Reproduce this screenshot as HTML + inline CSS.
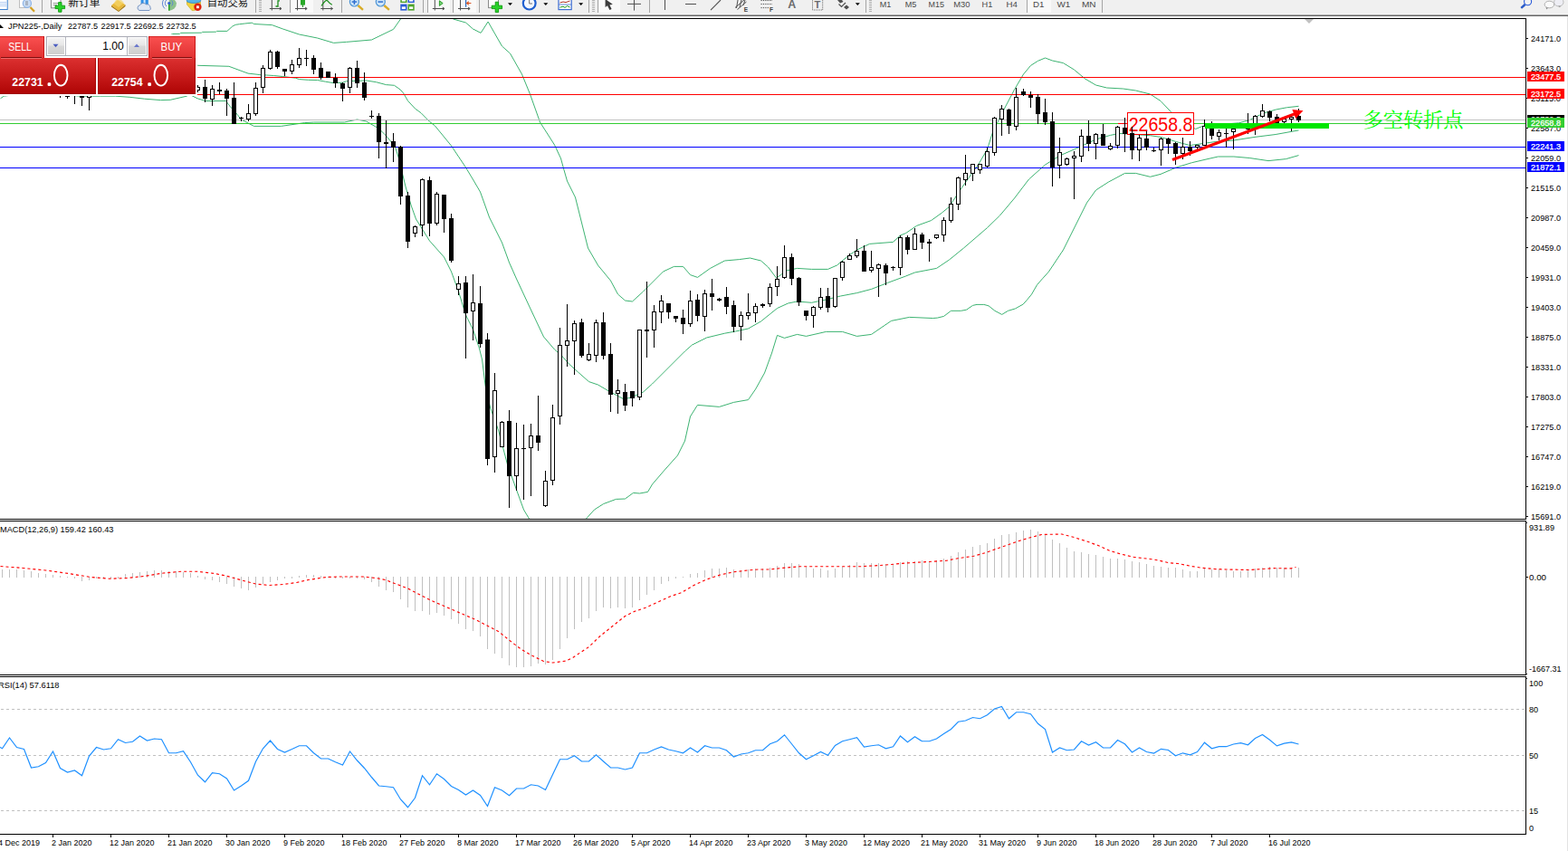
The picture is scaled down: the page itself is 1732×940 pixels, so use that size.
<!DOCTYPE html>
<html><head><meta charset="utf-8"><title>JPN225 Daily</title>
<style>html,body{margin:0;padding:0;background:#fff;overflow:hidden}
svg{display:block;font-family:"Liberation Sans",sans-serif}</style></head>
<body><svg width="1732" height="940" viewBox="0 0 1732 940">
<rect x="0" y="0" width="1732" height="940" fill="#fff"/>
<g shape-rendering="crispEdges">
<rect x="0" y="20" width="1686" height="1" fill="#000"/>
<rect x="1685" y="20" width="1" height="554" fill="#000"/>
<rect x="0" y="573" width="1686" height="1" fill="#000"/>
<rect x="0" y="575" width="1686" height="1" fill="#000"/>
<rect x="1685" y="575" width="1" height="171" fill="#000"/>
<rect x="0" y="745" width="1686" height="1" fill="#000"/>
<rect x="0" y="747" width="1686" height="1" fill="#000"/>
<rect x="1685" y="747" width="1" height="175" fill="#000"/>
<rect x="0" y="921" width="1686" height="1" fill="#000"/>
<rect x="1731" y="18" width="1" height="922" fill="#e3e3e3"/>
</g>
<clipPath id="cm"><rect x="0" y="21" width="1685" height="552"/></clipPath>
<g clip-path="url(#cm)">
<polyline points="186.5,39.5 190.5,37.5 198.5,37.4 199.5,36.4 222.5,36.2 223.5,35.4 238.5,35.2 239.5,34.4 250.9,34.4 256.8,29 260.3,27.3 264.5,26.7 270.5,26 278.3,25.2 280.5,26.5 300.5,27.6 312.5,32 330.5,38 350.5,42 368.5,47.4 382.5,46.4 410.5,44 434.5,32.4 442.5,21 444.5,18" fill="none" stroke="#3cb371" stroke-width="1"/>
<polyline points="498.5,18 500.5,21 514.5,25 522.5,32 531.1,36.4 539.1,24 554.5,51 563.5,59 576.5,82 585.5,104 596.5,135 612.5,160 619.5,175 622.5,186 626.5,200 635.5,218 642.5,246 649.5,274 660.5,293 674.5,310 682.5,325 690.5,332 698.5,333 710.5,322 724.5,308 732.5,300 744.5,294.4 754.5,294.4 762.5,303.6 770.5,306.4 784.5,296.4 800.5,288 816.5,286.6 828.5,285 840.5,288 848.5,295 857.5,307 862.5,303.6 868.5,299 880.5,296.4 896.5,297.4 914.5,297.4 924.5,293 936.5,283 946.5,276 960.5,269.4 986.5,267.4 994.5,260 1000.5,257.6 1012.5,249.4 1028.5,243.6 1040.5,235 1048.5,228.4 1060.5,210 1072.5,193 1080.5,182 1090.5,165 1096.5,146 1110.5,118 1120.5,99 1130.5,82 1138.5,72.4 1146.5,67.3 1154.5,64 1162.5,67 1174.5,69.6 1186.5,77 1198.5,87 1210.5,94 1222.5,97 1240.5,98 1254.5,100 1270.5,104 1282,111.5 1293.5,123.7 1306.5,134 1320.5,142.5 1328.5,139.3 1340.5,138 1368.5,135.8 1380.5,132.5 1391.5,127 1398,124.3 1409.5,121 1421.5,118.75 1434.5,117.3" fill="none" stroke="#3cb371" stroke-width="1"/>
<polyline points="216.5,72.4 218.5,72.3 252.9,73.3 274,81.1 287.5,82.6 302.5,83.5 312.5,84.5 326.5,86.2 330.5,87.6 340.5,88.3 350.5,88.5 359.5,90.2 368.5,91.7 378.5,91.2 382.5,89.8 392.5,89.3 405.5,89.1 415.5,90.7 426.5,93.6 435.5,94.3 442,98.9 445.5,102.7 450.5,111.3 458.5,120 465,124.7 474.5,134.3 480.5,139 498.5,161 514.5,185 523.5,200 530.5,212 540.5,240 554.5,268 562.5,290 570.5,308 584.5,338 600.5,372 612.5,386 620.5,393 628.5,402 638.5,411 650.5,421.6 660.5,425 672.5,432 688.5,440.6 696.5,439.4 710.5,433 720.5,424 740.5,404 756.5,388 764.5,381 780.5,373 800.5,368.2 812.5,366 826.5,363 840.5,355 858.5,340.5 870.5,335 880.5,333 896.5,334.3 912.5,331 928.5,327 946.5,323.6 962.5,319.4 980.5,312.4 1000.5,305 1010.5,301 1034.5,296.4 1048.5,287 1064.5,274 1090.5,251.6 1104.5,238 1120.5,219 1136.5,198 1154.5,182 1170.5,172 1186.5,165 1210.5,154 1226.5,149.4 1236.5,147.4 1270.5,149.7 1282,151.4 1299.5,156.6 1314.5,160.6 1325.9,158.9 1342.1,156.6 1362.9,155 1386,151.4 1409.1,148.5 1434.5,143.9" fill="none" stroke="#3cb371" stroke-width="1"/>
<polyline points="0.5,108.8 4.25,106.2 20.5,104 60.5,104 89.1,106.2 110.5,106.2 127.5,106.2 143.1,107.3 159.5,109.2 177.5,110.6 188.2,110.3 206.2,106.2 209,104.5 212.2,105.8 218.2,108.8 227.2,111.5 249.5,111.5 255.5,119.3 258.5,122 266.5,132 280.5,139.4 310.5,139.4 336.5,135.6 346.5,135 380.5,135 394.5,132 404.5,134 418.5,142 426.5,150 436.5,162 440.5,175 446.5,200 448.5,208 454.5,228 459.5,242 474.5,266 490.5,284 498.5,300 506.5,322 514.5,348 522.5,364 529.5,385 532.5,397 536.1,426 541.5,450 550.5,475 560.5,513 570.5,541 578.5,563 584.5,573 586.5,577" fill="none" stroke="#3cb371" stroke-width="1"/>
<polyline points="645.5,577 647.5,573 656.5,563 666.5,556.6 680.5,551.4 690.5,551 699.5,544.4 706.5,545 715.5,543.4 720.5,535 732.5,521 748.5,503 756.5,487 762.5,460 770.5,447.4 794.5,449.4 810.5,444.4 826.5,441.6 834.5,430 844.5,412 852.5,390 858.5,370.4 866.5,373.4 880.5,369.4 890.5,371.4 912.5,366.4 930.5,366.4 946.5,371.4 962.5,369.4 984.5,354.4 1004.5,350.4 1030.5,351.5 1035.5,351.1 1042.5,349.4 1050.5,343.3 1061.5,343.3 1067.5,342.2 1074.5,337.4 1079,336.4 1086.8,336.4 1092,337.8 1098.9,343.3 1106.7,347.4 1113.5,343.3 1121.5,340.9 1130.1,336.1 1134.5,331.2 1139.5,325.1 1145.5,314.7 1151.5,307.8 1158.5,300 1174.5,276 1186.5,252 1200.5,224 1210.5,210 1224.5,201 1242.5,191.4 1254.5,191.4 1270.5,195.3 1282,192.4 1299.5,184.9 1316.5,179.7 1334,175.6 1345.5,173 1362.9,173 1380.2,174.5 1401,177.6 1420.5,175.6 1434.5,171.6" fill="none" stroke="#3cb371" stroke-width="1"/>
<g shape-rendering="crispEdges">
<rect x="0" y="85" width="1685" height="1" fill="#f00"/>
<rect x="0" y="104" width="1685" height="1" fill="#f00"/>
<rect x="0" y="132" width="1685" height="1" fill="#c0c0c0"/>
<rect x="0" y="136" width="1685" height="1" fill="#32cd32"/>
<rect x="0" y="162" width="1685" height="1" fill="#00f"/>
<rect x="0" y="185" width="1685" height="1" fill="#00f"/>
</g>
<g shape-rendering="crispEdges">
<rect x="1235" y="136" width="10" height="1" fill="#f00"/>
<rect x="1245" y="124" width="74" height="25" fill="#f00"/>
<rect x="1246" y="125" width="72" height="23" fill="#fff"/>
</g>
<text x="1246.7" y="144.9" font-size="22.4" fill="#f00" textLength="70.6" lengthAdjust="spacingAndGlyphs">22658.8</text>
<g shape-rendering="crispEdges">
<rect x="66" y="100" width="1" height="8" fill="#000"/>
<rect x="64" y="100" width="5" height="4" fill="#000"/>
<rect x="74" y="95" width="1" height="14" fill="#000"/>
<rect x="72" y="98" width="5" height="9" fill="#000"/>
<rect x="73" y="99" width="3" height="7" fill="#fff"/>
<rect x="82" y="95" width="1" height="20" fill="#000"/>
<rect x="80" y="98" width="5" height="5" fill="#000"/>
<rect x="90" y="95" width="1" height="22" fill="#000"/>
<rect x="88" y="98" width="5" height="10" fill="#000"/>
<rect x="98" y="95" width="1" height="27" fill="#000"/>
<rect x="96" y="98" width="5" height="10" fill="#000"/>
<rect x="97" y="99" width="3" height="8" fill="#fff"/>
<rect x="218" y="94" width="1" height="8" fill="#000"/>
<rect x="216" y="96" width="5" height="4" fill="#000"/>
<rect x="217" y="97" width="3" height="2" fill="#fff"/>
<rect x="226" y="88" width="1" height="25" fill="#000"/>
<rect x="224" y="96" width="5" height="13" fill="#000"/>
<rect x="234" y="94" width="1" height="23" fill="#000"/>
<rect x="232" y="98" width="5" height="12" fill="#000"/>
<rect x="233" y="99" width="3" height="10" fill="#fff"/>
<rect x="242" y="91" width="1" height="13" fill="#000"/>
<rect x="240" y="99" width="5" height="2" fill="#000"/>
<rect x="250" y="98" width="1" height="30" fill="#000"/>
<rect x="248" y="100" width="5" height="9" fill="#000"/>
<rect x="258" y="91" width="1" height="46" fill="#000"/>
<rect x="256" y="108" width="5" height="29" fill="#000"/>
<rect x="266" y="129" width="1" height="5" fill="#000"/>
<rect x="264" y="130" width="5" height="1" fill="#000"/>
<rect x="274" y="115" width="1" height="19" fill="#000"/>
<rect x="272" y="125" width="5" height="7" fill="#000"/>
<rect x="273" y="126" width="3" height="5" fill="#fff"/>
<rect x="282" y="91" width="1" height="37" fill="#000"/>
<rect x="280" y="97" width="5" height="29" fill="#000"/>
<rect x="281" y="98" width="3" height="27" fill="#fff"/>
<rect x="290" y="72" width="1" height="31" fill="#000"/>
<rect x="288" y="75" width="5" height="22" fill="#000"/>
<rect x="289" y="76" width="3" height="20" fill="#fff"/>
<rect x="298" y="55" width="1" height="22" fill="#000"/>
<rect x="296" y="57" width="5" height="19" fill="#000"/>
<rect x="297" y="58" width="3" height="17" fill="#fff"/>
<rect x="306" y="56" width="1" height="20" fill="#000"/>
<rect x="304" y="57" width="5" height="17" fill="#000"/>
<rect x="314" y="76" width="1" height="8" fill="#000"/>
<rect x="312" y="76" width="5" height="3" fill="#000"/>
<rect x="322" y="66" width="1" height="16" fill="#000"/>
<rect x="320" y="71" width="5" height="8" fill="#000"/>
<rect x="321" y="72" width="3" height="6" fill="#fff"/>
<rect x="330" y="53" width="1" height="22" fill="#000"/>
<rect x="328" y="64" width="5" height="8" fill="#000"/>
<rect x="329" y="65" width="3" height="6" fill="#fff"/>
<rect x="338" y="55" width="1" height="18" fill="#000"/>
<rect x="336" y="64" width="5" height="1" fill="#000"/>
<rect x="346" y="61" width="1" height="21" fill="#000"/>
<rect x="344" y="64" width="5" height="13" fill="#000"/>
<rect x="354" y="69" width="1" height="19" fill="#000"/>
<rect x="352" y="75" width="5" height="11" fill="#000"/>
<rect x="362" y="79" width="1" height="7" fill="#000"/>
<rect x="360" y="79" width="5" height="7" fill="#000"/>
<rect x="370" y="81" width="1" height="16" fill="#000"/>
<rect x="368" y="86" width="5" height="6" fill="#000"/>
<rect x="378" y="91" width="1" height="21" fill="#000"/>
<rect x="376" y="92" width="5" height="6" fill="#000"/>
<rect x="386" y="74" width="1" height="29" fill="#000"/>
<rect x="384" y="75" width="5" height="22" fill="#000"/>
<rect x="385" y="76" width="3" height="20" fill="#fff"/>
<rect x="394" y="67" width="1" height="30" fill="#000"/>
<rect x="392" y="75" width="5" height="17" fill="#000"/>
<rect x="402" y="80" width="1" height="31" fill="#000"/>
<rect x="400" y="91" width="5" height="17" fill="#000"/>
<rect x="410" y="122" width="1" height="9" fill="#000"/>
<rect x="408" y="128" width="5" height="1" fill="#000"/>
<rect x="418" y="125" width="1" height="50" fill="#000"/>
<rect x="416" y="128" width="5" height="29" fill="#000"/>
<rect x="426" y="133" width="1" height="53" fill="#000"/>
<rect x="424" y="157" width="5" height="2" fill="#000"/>
<rect x="434" y="147" width="1" height="32" fill="#000"/>
<rect x="432" y="156" width="5" height="7" fill="#000"/>
<rect x="442" y="161" width="1" height="65" fill="#000"/>
<rect x="440" y="162" width="5" height="55" fill="#000"/>
<rect x="450" y="212" width="1" height="62" fill="#000"/>
<rect x="448" y="216" width="5" height="51" fill="#000"/>
<rect x="458" y="249" width="1" height="13" fill="#000"/>
<rect x="456" y="250" width="5" height="8" fill="#000"/>
<rect x="457" y="251" width="3" height="6" fill="#fff"/>
<rect x="466" y="197" width="1" height="64" fill="#000"/>
<rect x="464" y="198" width="5" height="51" fill="#000"/>
<rect x="465" y="199" width="3" height="49" fill="#fff"/>
<rect x="474" y="195" width="1" height="66" fill="#000"/>
<rect x="472" y="199" width="5" height="48" fill="#000"/>
<rect x="482" y="212" width="1" height="37" fill="#000"/>
<rect x="480" y="214" width="5" height="33" fill="#000"/>
<rect x="481" y="215" width="3" height="31" fill="#fff"/>
<rect x="490" y="215" width="1" height="42" fill="#000"/>
<rect x="488" y="215" width="5" height="27" fill="#000"/>
<rect x="498" y="236" width="1" height="54" fill="#000"/>
<rect x="496" y="241" width="5" height="47" fill="#000"/>
<rect x="506" y="305" width="1" height="21" fill="#000"/>
<rect x="504" y="313" width="5" height="7" fill="#000"/>
<rect x="505" y="314" width="3" height="5" fill="#fff"/>
<rect x="514" y="305" width="1" height="91" fill="#000"/>
<rect x="512" y="312" width="5" height="34" fill="#000"/>
<rect x="522" y="303" width="1" height="73" fill="#000"/>
<rect x="520" y="334" width="5" height="10" fill="#000"/>
<rect x="521" y="335" width="3" height="8" fill="#fff"/>
<rect x="530" y="316" width="1" height="68" fill="#000"/>
<rect x="528" y="335" width="5" height="45" fill="#000"/>
<rect x="538" y="368" width="1" height="146" fill="#000"/>
<rect x="536" y="375" width="5" height="132" fill="#000"/>
<rect x="546" y="412" width="1" height="110" fill="#000"/>
<rect x="544" y="431" width="5" height="74" fill="#000"/>
<rect x="545" y="432" width="3" height="72" fill="#fff"/>
<rect x="554" y="465" width="1" height="29" fill="#000"/>
<rect x="552" y="466" width="5" height="28" fill="#000"/>
<rect x="553" y="467" width="3" height="26" fill="#fff"/>
<rect x="562" y="453" width="1" height="108" fill="#000"/>
<rect x="560" y="465" width="5" height="61" fill="#000"/>
<rect x="570" y="467" width="1" height="75" fill="#000"/>
<rect x="568" y="495" width="5" height="31" fill="#000"/>
<rect x="569" y="496" width="3" height="29" fill="#fff"/>
<rect x="578" y="469" width="1" height="83" fill="#000"/>
<rect x="576" y="495" width="5" height="1" fill="#000"/>
<rect x="586" y="468" width="1" height="80" fill="#000"/>
<rect x="584" y="481" width="5" height="14" fill="#000"/>
<rect x="585" y="482" width="3" height="12" fill="#fff"/>
<rect x="594" y="437" width="1" height="61" fill="#000"/>
<rect x="592" y="481" width="5" height="8" fill="#000"/>
<rect x="602" y="520" width="1" height="40" fill="#000"/>
<rect x="600" y="531" width="5" height="28" fill="#000"/>
<rect x="601" y="532" width="3" height="26" fill="#fff"/>
<rect x="610" y="447" width="1" height="89" fill="#000"/>
<rect x="608" y="461" width="5" height="70" fill="#000"/>
<rect x="609" y="462" width="3" height="68" fill="#fff"/>
<rect x="618" y="362" width="1" height="107" fill="#000"/>
<rect x="616" y="381" width="5" height="79" fill="#000"/>
<rect x="617" y="382" width="3" height="77" fill="#fff"/>
<rect x="626" y="336" width="1" height="69" fill="#000"/>
<rect x="624" y="376" width="5" height="6" fill="#000"/>
<rect x="625" y="377" width="3" height="4" fill="#fff"/>
<rect x="634" y="354" width="1" height="60" fill="#000"/>
<rect x="632" y="357" width="5" height="20" fill="#000"/>
<rect x="633" y="358" width="3" height="18" fill="#fff"/>
<rect x="642" y="352" width="1" height="43" fill="#000"/>
<rect x="640" y="356" width="5" height="37" fill="#000"/>
<rect x="650" y="379" width="1" height="20" fill="#000"/>
<rect x="648" y="391" width="5" height="7" fill="#000"/>
<rect x="649" y="392" width="3" height="5" fill="#fff"/>
<rect x="658" y="353" width="1" height="47" fill="#000"/>
<rect x="656" y="356" width="5" height="37" fill="#000"/>
<rect x="657" y="357" width="3" height="35" fill="#fff"/>
<rect x="666" y="345" width="1" height="52" fill="#000"/>
<rect x="664" y="356" width="5" height="37" fill="#000"/>
<rect x="674" y="379" width="1" height="76" fill="#000"/>
<rect x="672" y="391" width="5" height="45" fill="#000"/>
<rect x="682" y="419" width="1" height="38" fill="#000"/>
<rect x="680" y="431" width="5" height="4" fill="#000"/>
<rect x="681" y="432" width="3" height="2" fill="#fff"/>
<rect x="690" y="424" width="1" height="30" fill="#000"/>
<rect x="688" y="433" width="5" height="15" fill="#000"/>
<rect x="698" y="432" width="1" height="17" fill="#000"/>
<rect x="696" y="432" width="5" height="8" fill="#000"/>
<rect x="706" y="364" width="1" height="78" fill="#000"/>
<rect x="704" y="364" width="5" height="75" fill="#000"/>
<rect x="705" y="365" width="3" height="73" fill="#fff"/>
<rect x="714" y="311" width="1" height="84" fill="#000"/>
<rect x="712" y="364" width="5" height="2" fill="#000"/>
<rect x="722" y="337" width="1" height="47" fill="#000"/>
<rect x="720" y="344" width="5" height="21" fill="#000"/>
<rect x="721" y="345" width="3" height="19" fill="#fff"/>
<rect x="730" y="326" width="1" height="31" fill="#000"/>
<rect x="728" y="332" width="5" height="13" fill="#000"/>
<rect x="729" y="333" width="3" height="11" fill="#fff"/>
<rect x="738" y="335" width="1" height="17" fill="#000"/>
<rect x="736" y="335" width="5" height="10" fill="#000"/>
<rect x="746" y="349" width="1" height="7" fill="#000"/>
<rect x="744" y="349" width="5" height="3" fill="#000"/>
<rect x="754" y="342" width="1" height="27" fill="#000"/>
<rect x="752" y="351" width="5" height="7" fill="#000"/>
<rect x="762" y="321" width="1" height="40" fill="#000"/>
<rect x="760" y="332" width="5" height="26" fill="#000"/>
<rect x="761" y="333" width="3" height="24" fill="#fff"/>
<rect x="770" y="325" width="1" height="30" fill="#000"/>
<rect x="768" y="331" width="5" height="18" fill="#000"/>
<rect x="778" y="320" width="1" height="46" fill="#000"/>
<rect x="776" y="324" width="5" height="26" fill="#000"/>
<rect x="777" y="325" width="3" height="24" fill="#fff"/>
<rect x="786" y="308" width="1" height="35" fill="#000"/>
<rect x="784" y="324" width="5" height="4" fill="#000"/>
<rect x="794" y="329" width="1" height="4" fill="#000"/>
<rect x="792" y="330" width="5" height="2" fill="#000"/>
<rect x="802" y="317" width="1" height="30" fill="#000"/>
<rect x="800" y="328" width="5" height="11" fill="#000"/>
<rect x="810" y="332" width="1" height="35" fill="#000"/>
<rect x="808" y="337" width="5" height="24" fill="#000"/>
<rect x="818" y="344" width="1" height="32" fill="#000"/>
<rect x="816" y="348" width="5" height="13" fill="#000"/>
<rect x="817" y="349" width="3" height="11" fill="#fff"/>
<rect x="826" y="324" width="1" height="29" fill="#000"/>
<rect x="824" y="345" width="5" height="4" fill="#000"/>
<rect x="825" y="346" width="3" height="2" fill="#fff"/>
<rect x="834" y="335" width="1" height="21" fill="#000"/>
<rect x="832" y="338" width="5" height="8" fill="#000"/>
<rect x="833" y="339" width="3" height="6" fill="#fff"/>
<rect x="842" y="335" width="1" height="5" fill="#000"/>
<rect x="840" y="336" width="5" height="2" fill="#000"/>
<rect x="850" y="313" width="1" height="26" fill="#000"/>
<rect x="848" y="317" width="5" height="19" fill="#000"/>
<rect x="849" y="318" width="3" height="17" fill="#fff"/>
<rect x="858" y="294" width="1" height="33" fill="#000"/>
<rect x="856" y="308" width="5" height="9" fill="#000"/>
<rect x="857" y="309" width="3" height="7" fill="#fff"/>
<rect x="866" y="271" width="1" height="37" fill="#000"/>
<rect x="864" y="284" width="5" height="23" fill="#000"/>
<rect x="865" y="285" width="3" height="21" fill="#fff"/>
<rect x="874" y="280" width="1" height="35" fill="#000"/>
<rect x="872" y="284" width="5" height="24" fill="#000"/>
<rect x="882" y="306" width="1" height="32" fill="#000"/>
<rect x="880" y="307" width="5" height="27" fill="#000"/>
<rect x="890" y="343" width="1" height="11" fill="#000"/>
<rect x="888" y="343" width="5" height="6" fill="#000"/>
<rect x="898" y="338" width="1" height="24" fill="#000"/>
<rect x="896" y="339" width="5" height="10" fill="#000"/>
<rect x="897" y="340" width="3" height="8" fill="#fff"/>
<rect x="906" y="318" width="1" height="24" fill="#000"/>
<rect x="904" y="328" width="5" height="12" fill="#000"/>
<rect x="905" y="329" width="3" height="10" fill="#fff"/>
<rect x="914" y="318" width="1" height="27" fill="#000"/>
<rect x="912" y="327" width="5" height="13" fill="#000"/>
<rect x="922" y="307" width="1" height="33" fill="#000"/>
<rect x="920" y="307" width="5" height="32" fill="#000"/>
<rect x="921" y="308" width="3" height="30" fill="#fff"/>
<rect x="930" y="288" width="1" height="22" fill="#000"/>
<rect x="928" y="289" width="5" height="18" fill="#000"/>
<rect x="929" y="290" width="3" height="16" fill="#fff"/>
<rect x="938" y="280" width="1" height="7" fill="#000"/>
<rect x="936" y="282" width="5" height="5" fill="#000"/>
<rect x="937" y="283" width="3" height="3" fill="#fff"/>
<rect x="946" y="264" width="1" height="21" fill="#000"/>
<rect x="944" y="277" width="5" height="6" fill="#000"/>
<rect x="945" y="278" width="3" height="4" fill="#fff"/>
<rect x="954" y="271" width="1" height="29" fill="#000"/>
<rect x="952" y="277" width="5" height="23" fill="#000"/>
<rect x="962" y="277" width="1" height="24" fill="#000"/>
<rect x="960" y="295" width="5" height="4" fill="#000"/>
<rect x="961" y="296" width="3" height="2" fill="#fff"/>
<rect x="970" y="291" width="1" height="37" fill="#000"/>
<rect x="968" y="292" width="5" height="5" fill="#000"/>
<rect x="969" y="293" width="3" height="3" fill="#fff"/>
<rect x="978" y="291" width="1" height="24" fill="#000"/>
<rect x="976" y="293" width="5" height="9" fill="#000"/>
<rect x="986" y="294" width="1" height="5" fill="#000"/>
<rect x="984" y="295" width="5" height="1" fill="#000"/>
<rect x="994" y="260" width="1" height="44" fill="#000"/>
<rect x="992" y="262" width="5" height="34" fill="#000"/>
<rect x="993" y="263" width="3" height="32" fill="#fff"/>
<rect x="1002" y="260" width="1" height="21" fill="#000"/>
<rect x="1000" y="262" width="5" height="14" fill="#000"/>
<rect x="1010" y="252" width="1" height="24" fill="#000"/>
<rect x="1008" y="258" width="5" height="18" fill="#000"/>
<rect x="1009" y="259" width="3" height="16" fill="#fff"/>
<rect x="1018" y="257" width="1" height="18" fill="#000"/>
<rect x="1016" y="259" width="5" height="9" fill="#000"/>
<rect x="1026" y="264" width="1" height="25" fill="#000"/>
<rect x="1024" y="267" width="5" height="2" fill="#000"/>
<rect x="1034" y="259" width="1" height="5" fill="#000"/>
<rect x="1032" y="259" width="5" height="4" fill="#000"/>
<rect x="1033" y="260" width="3" height="2" fill="#fff"/>
<rect x="1042" y="240" width="1" height="27" fill="#000"/>
<rect x="1040" y="243" width="5" height="17" fill="#000"/>
<rect x="1041" y="244" width="3" height="15" fill="#fff"/>
<rect x="1050" y="218" width="1" height="28" fill="#000"/>
<rect x="1048" y="225" width="5" height="19" fill="#000"/>
<rect x="1049" y="226" width="3" height="17" fill="#fff"/>
<rect x="1058" y="195" width="1" height="37" fill="#000"/>
<rect x="1056" y="196" width="5" height="30" fill="#000"/>
<rect x="1057" y="197" width="3" height="28" fill="#fff"/>
<rect x="1066" y="171" width="1" height="34" fill="#000"/>
<rect x="1064" y="191" width="5" height="8" fill="#000"/>
<rect x="1065" y="192" width="3" height="6" fill="#fff"/>
<rect x="1074" y="181" width="1" height="19" fill="#000"/>
<rect x="1072" y="181" width="5" height="11" fill="#000"/>
<rect x="1073" y="182" width="3" height="9" fill="#fff"/>
<rect x="1082" y="181" width="1" height="11" fill="#000"/>
<rect x="1080" y="181" width="5" height="7" fill="#000"/>
<rect x="1081" y="182" width="3" height="5" fill="#fff"/>
<rect x="1090" y="163" width="1" height="22" fill="#000"/>
<rect x="1088" y="167" width="5" height="17" fill="#000"/>
<rect x="1089" y="168" width="3" height="15" fill="#fff"/>
<rect x="1098" y="129" width="1" height="43" fill="#000"/>
<rect x="1096" y="130" width="5" height="39" fill="#000"/>
<rect x="1097" y="131" width="3" height="37" fill="#fff"/>
<rect x="1106" y="116" width="1" height="34" fill="#000"/>
<rect x="1104" y="120" width="5" height="12" fill="#000"/>
<rect x="1105" y="121" width="3" height="10" fill="#fff"/>
<rect x="1114" y="120" width="1" height="28" fill="#000"/>
<rect x="1112" y="121" width="5" height="18" fill="#000"/>
<rect x="1122" y="97" width="1" height="47" fill="#000"/>
<rect x="1120" y="107" width="5" height="33" fill="#000"/>
<rect x="1121" y="108" width="3" height="31" fill="#fff"/>
<rect x="1130" y="98" width="1" height="8" fill="#000"/>
<rect x="1128" y="101" width="5" height="4" fill="#000"/>
<rect x="1138" y="101" width="1" height="18" fill="#000"/>
<rect x="1136" y="105" width="5" height="3" fill="#000"/>
<rect x="1146" y="104" width="1" height="33" fill="#000"/>
<rect x="1144" y="107" width="5" height="19" fill="#000"/>
<rect x="1154" y="109" width="1" height="29" fill="#000"/>
<rect x="1152" y="124" width="5" height="11" fill="#000"/>
<rect x="1162" y="124" width="1" height="82" fill="#000"/>
<rect x="1160" y="134" width="5" height="51" fill="#000"/>
<rect x="1170" y="152" width="1" height="45" fill="#000"/>
<rect x="1168" y="168" width="5" height="15" fill="#000"/>
<rect x="1169" y="169" width="3" height="13" fill="#fff"/>
<rect x="1178" y="174" width="1" height="9" fill="#000"/>
<rect x="1176" y="175" width="5" height="7" fill="#000"/>
<rect x="1177" y="176" width="3" height="5" fill="#fff"/>
<rect x="1186" y="167" width="1" height="53" fill="#000"/>
<rect x="1184" y="172" width="5" height="3" fill="#000"/>
<rect x="1185" y="173" width="3" height="1" fill="#fff"/>
<rect x="1194" y="143" width="1" height="36" fill="#000"/>
<rect x="1192" y="150" width="5" height="23" fill="#000"/>
<rect x="1193" y="151" width="3" height="21" fill="#fff"/>
<rect x="1202" y="133" width="1" height="34" fill="#000"/>
<rect x="1200" y="150" width="5" height="9" fill="#000"/>
<rect x="1210" y="147" width="1" height="29" fill="#000"/>
<rect x="1208" y="148" width="5" height="11" fill="#000"/>
<rect x="1209" y="149" width="3" height="9" fill="#fff"/>
<rect x="1218" y="137" width="1" height="24" fill="#000"/>
<rect x="1216" y="148" width="5" height="13" fill="#000"/>
<rect x="1226" y="158" width="1" height="8" fill="#000"/>
<rect x="1224" y="161" width="5" height="4" fill="#000"/>
<rect x="1225" y="162" width="3" height="2" fill="#fff"/>
<rect x="1234" y="139" width="1" height="25" fill="#000"/>
<rect x="1232" y="140" width="5" height="21" fill="#000"/>
<rect x="1233" y="141" width="3" height="19" fill="#fff"/>
<rect x="1242" y="130" width="1" height="38" fill="#000"/>
<rect x="1240" y="141" width="5" height="7" fill="#000"/>
<rect x="1250" y="140" width="1" height="36" fill="#000"/>
<rect x="1248" y="147" width="5" height="19" fill="#000"/>
<rect x="1258" y="149" width="1" height="29" fill="#000"/>
<rect x="1256" y="152" width="5" height="14" fill="#000"/>
<rect x="1257" y="153" width="3" height="12" fill="#fff"/>
<rect x="1266" y="145" width="1" height="21" fill="#000"/>
<rect x="1264" y="153" width="5" height="10" fill="#000"/>
<rect x="1274" y="163" width="1" height="5" fill="#000"/>
<rect x="1272" y="166" width="5" height="1" fill="#000"/>
<rect x="1282" y="152" width="1" height="31" fill="#000"/>
<rect x="1280" y="153" width="5" height="13" fill="#000"/>
<rect x="1281" y="154" width="3" height="11" fill="#fff"/>
<rect x="1290" y="152" width="1" height="18" fill="#000"/>
<rect x="1288" y="153" width="5" height="6" fill="#000"/>
<rect x="1298" y="157" width="1" height="25" fill="#000"/>
<rect x="1296" y="158" width="5" height="12" fill="#000"/>
<rect x="1306" y="152" width="1" height="24" fill="#000"/>
<rect x="1304" y="162" width="5" height="8" fill="#000"/>
<rect x="1305" y="163" width="3" height="6" fill="#fff"/>
<rect x="1314" y="156" width="1" height="16" fill="#000"/>
<rect x="1312" y="162" width="5" height="5" fill="#000"/>
<rect x="1322" y="160" width="1" height="5" fill="#000"/>
<rect x="1320" y="160" width="5" height="3" fill="#000"/>
<rect x="1321" y="161" width="3" height="1" fill="#fff"/>
<rect x="1330" y="132" width="1" height="29" fill="#000"/>
<rect x="1328" y="139" width="5" height="22" fill="#000"/>
<rect x="1329" y="140" width="3" height="20" fill="#fff"/>
<rect x="1338" y="134" width="1" height="20" fill="#000"/>
<rect x="1336" y="142" width="5" height="8" fill="#000"/>
<rect x="1346" y="143" width="1" height="12" fill="#000"/>
<rect x="1344" y="146" width="5" height="5" fill="#000"/>
<rect x="1345" y="147" width="3" height="3" fill="#fff"/>
<rect x="1354" y="136" width="1" height="27" fill="#000"/>
<rect x="1352" y="147" width="5" height="1" fill="#000"/>
<rect x="1362" y="139" width="1" height="26" fill="#000"/>
<rect x="1360" y="142" width="5" height="4" fill="#000"/>
<rect x="1361" y="143" width="3" height="2" fill="#fff"/>
<rect x="1378" y="125" width="1" height="23" fill="#000"/>
<rect x="1376" y="136" width="5" height="7" fill="#000"/>
<rect x="1386" y="127" width="1" height="22" fill="#000"/>
<rect x="1384" y="128" width="5" height="9" fill="#000"/>
<rect x="1385" y="129" width="3" height="7" fill="#fff"/>
<rect x="1394" y="115" width="1" height="15" fill="#000"/>
<rect x="1392" y="122" width="5" height="7" fill="#000"/>
<rect x="1393" y="123" width="3" height="5" fill="#fff"/>
<rect x="1402" y="122" width="1" height="12" fill="#000"/>
<rect x="1400" y="123" width="5" height="7" fill="#000"/>
<rect x="1410" y="126" width="1" height="11" fill="#000"/>
<rect x="1408" y="129" width="5" height="8" fill="#000"/>
<rect x="1418" y="130" width="1" height="6" fill="#000"/>
<rect x="1416" y="131" width="5" height="4" fill="#000"/>
<rect x="1417" y="132" width="3" height="2" fill="#fff"/>
<rect x="1426" y="128" width="1" height="17" fill="#000"/>
<rect x="1424" y="129" width="5" height="3" fill="#000"/>
<rect x="1425" y="130" width="3" height="1" fill="#fff"/>
<rect x="1434" y="120" width="1" height="15" fill="#000"/>
<rect x="1432" y="128" width="5" height="5" fill="#000"/>
</g>
<g shape-rendering="crispEdges">
<rect x="1331" y="136" width="137" height="6" fill="#00e600"/>
</g>
<line x1="1295" y1="176.6" x2="1431" y2="125.6" stroke="#f00" stroke-width="3.2"/>
<polygon points="1439.5,122.3 1427.4,121 1431.2,131" fill="#f00"/>
<text x="1505.5" y="139.5" font-size="22" fill="#00ff00" textLength="111" lengthAdjust="spacingAndGlyphs" style="font-family:'Liberation Serif','Noto Serif CJK SC',serif">多空转折点</text>
<polygon points="1441,21 1451,21 1446,26" fill="#c0c0c0"/>
</g>
<polygon points="0,27 4,31 0,31" fill="#000"/>
<text x="9" y="32" font-size="9.9" fill="#000" textLength="59.5" lengthAdjust="spacingAndGlyphs">JPN225-,Daily</text>
<text x="75" y="32" font-size="9.9" fill="#000" textLength="33" lengthAdjust="spacingAndGlyphs">22787.5</text>
<text x="111.6" y="32" font-size="9.9" fill="#000" textLength="33" lengthAdjust="spacingAndGlyphs">22917.5</text>
<text x="147.5" y="32" font-size="9.9" fill="#000" textLength="33" lengthAdjust="spacingAndGlyphs">22692.5</text>
<text x="183.5" y="32" font-size="9.9" fill="#000" textLength="33" lengthAdjust="spacingAndGlyphs">22732.5</text>
<g shape-rendering="crispEdges">
<rect x="1686" y="42" width="2" height="1" fill="#000"/>
<rect x="1686" y="75" width="2" height="1" fill="#000"/>
<rect x="1686" y="108" width="2" height="1" fill="#000"/>
<rect x="1686" y="141" width="2" height="1" fill="#000"/>
<rect x="1686" y="174" width="2" height="1" fill="#000"/>
<rect x="1686" y="207" width="2" height="1" fill="#000"/>
<rect x="1686" y="240" width="2" height="1" fill="#000"/>
<rect x="1686" y="273" width="2" height="1" fill="#000"/>
<rect x="1686" y="306" width="2" height="1" fill="#000"/>
<rect x="1686" y="339" width="2" height="1" fill="#000"/>
<rect x="1686" y="372" width="2" height="1" fill="#000"/>
<rect x="1686" y="405" width="2" height="1" fill="#000"/>
<rect x="1686" y="438" width="2" height="1" fill="#000"/>
<rect x="1686" y="471" width="2" height="1" fill="#000"/>
<rect x="1686" y="504" width="2" height="1" fill="#000"/>
<rect x="1686" y="537" width="2" height="1" fill="#000"/>
<rect x="1686" y="570" width="2" height="1" fill="#000"/>
</g>
<text x="1691" y="46" font-size="9.9" fill="#000" textLength="33" lengthAdjust="spacingAndGlyphs">24171.0</text>
<text x="1691" y="79" font-size="9.9" fill="#000" textLength="33" lengthAdjust="spacingAndGlyphs">23643.0</text>
<text x="1691" y="112" font-size="9.9" fill="#000" textLength="33" lengthAdjust="spacingAndGlyphs">23115.0</text>
<text x="1691" y="145" font-size="9.9" fill="#000" textLength="33" lengthAdjust="spacingAndGlyphs">22587.0</text>
<text x="1691" y="178" font-size="9.9" fill="#000" textLength="33" lengthAdjust="spacingAndGlyphs">22059.0</text>
<text x="1691" y="211" font-size="9.9" fill="#000" textLength="33" lengthAdjust="spacingAndGlyphs">21515.0</text>
<text x="1691" y="244" font-size="9.9" fill="#000" textLength="33" lengthAdjust="spacingAndGlyphs">20987.0</text>
<text x="1691" y="277" font-size="9.9" fill="#000" textLength="33" lengthAdjust="spacingAndGlyphs">20459.0</text>
<text x="1691" y="310" font-size="9.9" fill="#000" textLength="33" lengthAdjust="spacingAndGlyphs">19931.0</text>
<text x="1691" y="343" font-size="9.9" fill="#000" textLength="33" lengthAdjust="spacingAndGlyphs">19403.0</text>
<text x="1691" y="376" font-size="9.9" fill="#000" textLength="33" lengthAdjust="spacingAndGlyphs">18875.0</text>
<text x="1691" y="409" font-size="9.9" fill="#000" textLength="33" lengthAdjust="spacingAndGlyphs">18331.0</text>
<text x="1691" y="442" font-size="9.9" fill="#000" textLength="33" lengthAdjust="spacingAndGlyphs">17803.0</text>
<text x="1691" y="475" font-size="9.9" fill="#000" textLength="33" lengthAdjust="spacingAndGlyphs">17275.0</text>
<text x="1691" y="508" font-size="9.9" fill="#000" textLength="33" lengthAdjust="spacingAndGlyphs">16747.0</text>
<text x="1691" y="541" font-size="9.9" fill="#000" textLength="33" lengthAdjust="spacingAndGlyphs">16219.0</text>
<text x="1691" y="574" font-size="9.9" fill="#000" textLength="33" lengthAdjust="spacingAndGlyphs">15691.0</text>
<g shape-rendering="crispEdges">
<rect x="1687" y="127" width="41" height="4" fill="#000"/>
<rect x="1687" y="79" width="41" height="11" fill="#f00"/>
<rect x="1687" y="98" width="41" height="11" fill="#f00"/>
<rect x="1687" y="130" width="41" height="11" fill="#32cd32"/>
<rect x="1687" y="156" width="41" height="11" fill="#00f"/>
<rect x="1687" y="179" width="41" height="11" fill="#00f"/>
</g>
<clipPath id="cb"><rect x="1687" y="127" width="41" height="3"/></clipPath>
<text x="1691" y="135.3" font-size="9.9" fill="#fff" textLength="33" lengthAdjust="spacingAndGlyphs" clip-path="url(#cb)">22732.5</text>
<text x="1691" y="88.2" font-size="9.9" fill="#fff" textLength="33" lengthAdjust="spacingAndGlyphs" stroke="#fff" stroke-width="0.25">23477.5</text>
<text x="1691" y="107.2" font-size="9.9" fill="#fff" textLength="33" lengthAdjust="spacingAndGlyphs" stroke="#fff" stroke-width="0.25">23172.5</text>
<text x="1691" y="139.2" font-size="9.9" fill="#fff" textLength="33" lengthAdjust="spacingAndGlyphs" stroke="#fff" stroke-width="0.25">22658.8</text>
<text x="1691" y="165.2" font-size="9.9" fill="#fff" textLength="33" lengthAdjust="spacingAndGlyphs" stroke="#fff" stroke-width="0.25">22241.3</text>
<text x="1691" y="188.2" font-size="9.9" fill="#fff" textLength="33" lengthAdjust="spacingAndGlyphs" stroke="#fff" stroke-width="0.25">21872.1</text>
<text x="0" y="587.5" font-size="9.9" fill="#000" textLength="125.5" lengthAdjust="spacingAndGlyphs">MACD(12,26,9) 159.42 160.43</text>
<g shape-rendering="crispEdges">
<rect x="2" y="629" width="1" height="9" fill="#c0c0c0"/>
<rect x="10" y="629" width="1" height="9" fill="#c0c0c0"/>
<rect x="18" y="629" width="1" height="9" fill="#c0c0c0"/>
<rect x="26" y="630" width="1" height="8" fill="#c0c0c0"/>
<rect x="34" y="631" width="1" height="7" fill="#c0c0c0"/>
<rect x="42" y="633" width="1" height="5" fill="#c0c0c0"/>
<rect x="50" y="634" width="1" height="4" fill="#c0c0c0"/>
<rect x="58" y="635" width="1" height="3" fill="#c0c0c0"/>
<rect x="66" y="636" width="1" height="2" fill="#c0c0c0"/>
<rect x="74" y="637" width="1" height="1" fill="#c0c0c0"/>
<rect x="82" y="637" width="1" height="2" fill="#c0c0c0"/>
<rect x="90" y="637" width="1" height="5" fill="#c0c0c0"/>
<rect x="98" y="637" width="1" height="4" fill="#c0c0c0"/>
<rect x="106" y="637" width="1" height="2" fill="#c0c0c0"/>
<rect x="114" y="637" width="1" height="2" fill="#c0c0c0"/>
<rect x="122" y="637" width="1" height="2" fill="#c0c0c0"/>
<rect x="130" y="637" width="1" height="2" fill="#c0c0c0"/>
<rect x="138" y="634" width="1" height="4" fill="#c0c0c0"/>
<rect x="146" y="633" width="1" height="5" fill="#c0c0c0"/>
<rect x="154" y="632" width="1" height="6" fill="#c0c0c0"/>
<rect x="162" y="631" width="1" height="7" fill="#c0c0c0"/>
<rect x="170" y="630" width="1" height="8" fill="#c0c0c0"/>
<rect x="178" y="630" width="1" height="8" fill="#c0c0c0"/>
<rect x="186" y="631" width="1" height="7" fill="#c0c0c0"/>
<rect x="194" y="631" width="1" height="7" fill="#c0c0c0"/>
<rect x="202" y="632" width="1" height="6" fill="#c0c0c0"/>
<rect x="210" y="633" width="1" height="5" fill="#c0c0c0"/>
<rect x="218" y="636" width="1" height="2" fill="#c0c0c0"/>
<rect x="226" y="637" width="1" height="3" fill="#c0c0c0"/>
<rect x="234" y="637" width="1" height="4" fill="#c0c0c0"/>
<rect x="242" y="637" width="1" height="6" fill="#c0c0c0"/>
<rect x="250" y="637" width="1" height="8" fill="#c0c0c0"/>
<rect x="258" y="637" width="1" height="11" fill="#c0c0c0"/>
<rect x="266" y="637" width="1" height="13" fill="#c0c0c0"/>
<rect x="274" y="637" width="1" height="15" fill="#c0c0c0"/>
<rect x="282" y="637" width="1" height="12" fill="#c0c0c0"/>
<rect x="290" y="637" width="1" height="8" fill="#c0c0c0"/>
<rect x="298" y="637" width="1" height="6" fill="#c0c0c0"/>
<rect x="306" y="637" width="1" height="4" fill="#c0c0c0"/>
<rect x="314" y="637" width="1" height="2" fill="#c0c0c0"/>
<rect x="322" y="637" width="1" height="2" fill="#c0c0c0"/>
<rect x="330" y="636" width="1" height="2" fill="#c0c0c0"/>
<rect x="338" y="635" width="1" height="3" fill="#c0c0c0"/>
<rect x="346" y="635" width="1" height="3" fill="#c0c0c0"/>
<rect x="354" y="636" width="1" height="2" fill="#c0c0c0"/>
<rect x="362" y="637" width="1" height="1" fill="#c0c0c0"/>
<rect x="370" y="637" width="1" height="2" fill="#c0c0c0"/>
<rect x="378" y="637" width="1" height="2" fill="#c0c0c0"/>
<rect x="386" y="637" width="1" height="2" fill="#c0c0c0"/>
<rect x="394" y="637" width="1" height="2" fill="#c0c0c0"/>
<rect x="402" y="637" width="1" height="3" fill="#c0c0c0"/>
<rect x="410" y="637" width="1" height="6" fill="#c0c0c0"/>
<rect x="418" y="637" width="1" height="11" fill="#c0c0c0"/>
<rect x="426" y="637" width="1" height="15" fill="#c0c0c0"/>
<rect x="434" y="637" width="1" height="17" fill="#c0c0c0"/>
<rect x="442" y="637" width="1" height="25" fill="#c0c0c0"/>
<rect x="450" y="637" width="1" height="34" fill="#c0c0c0"/>
<rect x="458" y="637" width="1" height="38" fill="#c0c0c0"/>
<rect x="466" y="637" width="1" height="38" fill="#c0c0c0"/>
<rect x="474" y="637" width="1" height="42" fill="#c0c0c0"/>
<rect x="482" y="637" width="1" height="40" fill="#c0c0c0"/>
<rect x="490" y="637" width="1" height="43" fill="#c0c0c0"/>
<rect x="498" y="637" width="1" height="47" fill="#c0c0c0"/>
<rect x="506" y="637" width="1" height="52" fill="#c0c0c0"/>
<rect x="514" y="637" width="1" height="58" fill="#c0c0c0"/>
<rect x="522" y="637" width="1" height="60" fill="#c0c0c0"/>
<rect x="530" y="637" width="1" height="66" fill="#c0c0c0"/>
<rect x="538" y="637" width="1" height="80" fill="#c0c0c0"/>
<rect x="546" y="637" width="1" height="85" fill="#c0c0c0"/>
<rect x="554" y="637" width="1" height="90" fill="#c0c0c0"/>
<rect x="562" y="637" width="1" height="98" fill="#c0c0c0"/>
<rect x="570" y="637" width="1" height="100" fill="#c0c0c0"/>
<rect x="578" y="637" width="1" height="100" fill="#c0c0c0"/>
<rect x="586" y="637" width="1" height="99" fill="#c0c0c0"/>
<rect x="594" y="637" width="1" height="96" fill="#c0c0c0"/>
<rect x="602" y="637" width="1" height="97" fill="#c0c0c0"/>
<rect x="610" y="637" width="1" height="92" fill="#c0c0c0"/>
<rect x="618" y="637" width="1" height="80" fill="#c0c0c0"/>
<rect x="626" y="637" width="1" height="68" fill="#c0c0c0"/>
<rect x="634" y="637" width="1" height="58" fill="#c0c0c0"/>
<rect x="642" y="637" width="1" height="50" fill="#c0c0c0"/>
<rect x="650" y="637" width="1" height="46" fill="#c0c0c0"/>
<rect x="658" y="637" width="1" height="38" fill="#c0c0c0"/>
<rect x="666" y="637" width="1" height="34" fill="#c0c0c0"/>
<rect x="674" y="637" width="1" height="35" fill="#c0c0c0"/>
<rect x="682" y="637" width="1" height="34" fill="#c0c0c0"/>
<rect x="690" y="637" width="1" height="35" fill="#c0c0c0"/>
<rect x="698" y="637" width="1" height="34" fill="#c0c0c0"/>
<rect x="706" y="637" width="1" height="26" fill="#c0c0c0"/>
<rect x="714" y="637" width="1" height="20" fill="#c0c0c0"/>
<rect x="722" y="637" width="1" height="15" fill="#c0c0c0"/>
<rect x="730" y="637" width="1" height="8" fill="#c0c0c0"/>
<rect x="738" y="637" width="1" height="5" fill="#c0c0c0"/>
<rect x="746" y="637" width="1" height="2" fill="#c0c0c0"/>
<rect x="754" y="637" width="1" height="1" fill="#c0c0c0"/>
<rect x="762" y="634" width="1" height="4" fill="#c0c0c0"/>
<rect x="770" y="633" width="1" height="5" fill="#c0c0c0"/>
<rect x="778" y="630" width="1" height="8" fill="#c0c0c0"/>
<rect x="786" y="628" width="1" height="10" fill="#c0c0c0"/>
<rect x="794" y="628" width="1" height="10" fill="#c0c0c0"/>
<rect x="802" y="627" width="1" height="11" fill="#c0c0c0"/>
<rect x="810" y="629" width="1" height="9" fill="#c0c0c0"/>
<rect x="818" y="630" width="1" height="8" fill="#c0c0c0"/>
<rect x="826" y="629" width="1" height="9" fill="#c0c0c0"/>
<rect x="834" y="628" width="1" height="10" fill="#c0c0c0"/>
<rect x="842" y="628" width="1" height="10" fill="#c0c0c0"/>
<rect x="850" y="627" width="1" height="11" fill="#c0c0c0"/>
<rect x="858" y="625" width="1" height="13" fill="#c0c0c0"/>
<rect x="866" y="622" width="1" height="16" fill="#c0c0c0"/>
<rect x="874" y="622" width="1" height="16" fill="#c0c0c0"/>
<rect x="882" y="623" width="1" height="15" fill="#c0c0c0"/>
<rect x="890" y="626" width="1" height="12" fill="#c0c0c0"/>
<rect x="898" y="628" width="1" height="10" fill="#c0c0c0"/>
<rect x="906" y="628" width="1" height="10" fill="#c0c0c0"/>
<rect x="914" y="630" width="1" height="8" fill="#c0c0c0"/>
<rect x="922" y="628" width="1" height="10" fill="#c0c0c0"/>
<rect x="930" y="626" width="1" height="12" fill="#c0c0c0"/>
<rect x="938" y="624" width="1" height="14" fill="#c0c0c0"/>
<rect x="946" y="621" width="1" height="17" fill="#c0c0c0"/>
<rect x="954" y="622" width="1" height="16" fill="#c0c0c0"/>
<rect x="962" y="622" width="1" height="16" fill="#c0c0c0"/>
<rect x="970" y="622" width="1" height="16" fill="#c0c0c0"/>
<rect x="978" y="623" width="1" height="15" fill="#c0c0c0"/>
<rect x="986" y="623" width="1" height="15" fill="#c0c0c0"/>
<rect x="994" y="621" width="1" height="17" fill="#c0c0c0"/>
<rect x="1002" y="620" width="1" height="18" fill="#c0c0c0"/>
<rect x="1010" y="620" width="1" height="18" fill="#c0c0c0"/>
<rect x="1018" y="619" width="1" height="19" fill="#c0c0c0"/>
<rect x="1026" y="620" width="1" height="18" fill="#c0c0c0"/>
<rect x="1034" y="619" width="1" height="19" fill="#c0c0c0"/>
<rect x="1042" y="617" width="1" height="21" fill="#c0c0c0"/>
<rect x="1050" y="614" width="1" height="24" fill="#c0c0c0"/>
<rect x="1058" y="610" width="1" height="28" fill="#c0c0c0"/>
<rect x="1066" y="607" width="1" height="31" fill="#c0c0c0"/>
<rect x="1074" y="604" width="1" height="34" fill="#c0c0c0"/>
<rect x="1082" y="602" width="1" height="36" fill="#c0c0c0"/>
<rect x="1090" y="600" width="1" height="38" fill="#c0c0c0"/>
<rect x="1098" y="595" width="1" height="43" fill="#c0c0c0"/>
<rect x="1106" y="591" width="1" height="47" fill="#c0c0c0"/>
<rect x="1114" y="590" width="1" height="48" fill="#c0c0c0"/>
<rect x="1122" y="588" width="1" height="50" fill="#c0c0c0"/>
<rect x="1130" y="586" width="1" height="52" fill="#c0c0c0"/>
<rect x="1138" y="585" width="1" height="53" fill="#c0c0c0"/>
<rect x="1146" y="587" width="1" height="51" fill="#c0c0c0"/>
<rect x="1154" y="590" width="1" height="48" fill="#c0c0c0"/>
<rect x="1162" y="596" width="1" height="42" fill="#c0c0c0"/>
<rect x="1170" y="600" width="1" height="38" fill="#c0c0c0"/>
<rect x="1178" y="605" width="1" height="33" fill="#c0c0c0"/>
<rect x="1186" y="609" width="1" height="29" fill="#c0c0c0"/>
<rect x="1194" y="610" width="1" height="28" fill="#c0c0c0"/>
<rect x="1202" y="612" width="1" height="26" fill="#c0c0c0"/>
<rect x="1210" y="613" width="1" height="25" fill="#c0c0c0"/>
<rect x="1218" y="615" width="1" height="23" fill="#c0c0c0"/>
<rect x="1226" y="617" width="1" height="21" fill="#c0c0c0"/>
<rect x="1234" y="617" width="1" height="21" fill="#c0c0c0"/>
<rect x="1242" y="618" width="1" height="20" fill="#c0c0c0"/>
<rect x="1250" y="620" width="1" height="18" fill="#c0c0c0"/>
<rect x="1258" y="621" width="1" height="17" fill="#c0c0c0"/>
<rect x="1266" y="623" width="1" height="15" fill="#c0c0c0"/>
<rect x="1274" y="625" width="1" height="13" fill="#c0c0c0"/>
<rect x="1282" y="626" width="1" height="12" fill="#c0c0c0"/>
<rect x="1290" y="627" width="1" height="11" fill="#c0c0c0"/>
<rect x="1298" y="627" width="1" height="11" fill="#c0c0c0"/>
<rect x="1306" y="629" width="1" height="9" fill="#c0c0c0"/>
<rect x="1314" y="631" width="1" height="7" fill="#c0c0c0"/>
<rect x="1322" y="631" width="1" height="7" fill="#c0c0c0"/>
<rect x="1330" y="628" width="1" height="10" fill="#c0c0c0"/>
<rect x="1338" y="629" width="1" height="9" fill="#c0c0c0"/>
<rect x="1346" y="629" width="1" height="9" fill="#c0c0c0"/>
<rect x="1354" y="630" width="1" height="8" fill="#c0c0c0"/>
<rect x="1362" y="631" width="1" height="7" fill="#c0c0c0"/>
<rect x="1370" y="631" width="1" height="7" fill="#c0c0c0"/>
<rect x="1378" y="629" width="1" height="9" fill="#c0c0c0"/>
<rect x="1386" y="628" width="1" height="10" fill="#c0c0c0"/>
<rect x="1394" y="627" width="1" height="11" fill="#c0c0c0"/>
<rect x="1402" y="626" width="1" height="12" fill="#c0c0c0"/>
<rect x="1410" y="627" width="1" height="11" fill="#c0c0c0"/>
<rect x="1418" y="627" width="1" height="11" fill="#c0c0c0"/>
<rect x="1426" y="627" width="1" height="11" fill="#c0c0c0"/>
<rect x="1434" y="627" width="1" height="11" fill="#c0c0c0"/>
<rect x="1686" y="577" width="1" height="1" fill="#000"/>
<rect x="1686" y="637" width="2" height="1" fill="#000"/>
<rect x="1686" y="744" width="1" height="1" fill="#000"/>
</g>
<polyline points="0.5,625.5 25.5,627.5 50.5,630 75.5,633.5 100.5,637.5 120.5,639.25 140.5,638.5 160.5,636.25 180.5,633 200.5,631.25 217.5,631.25 237.5,633.5 250.5,636.25 265.5,640.5 282.5,645 297.5,646.5 312.5,645.5 327.5,643.5 340.5,640.5 360.5,637.5 375.5,637 400.5,637 415.5,638.5 425.5,640.5 450.5,650 475.5,663 500.5,673.75 525.5,684.5 550.5,697.5 565.5,709.5 575.5,717 588,724.25 600.5,730.5 610.5,732 625.5,730 633,726.25 650.5,714.5 663,702.5 675.5,692.5 690.5,680.5 700.5,675.5 713,671.25 725.5,665.5 740.5,658.75 753,654.5 765.5,647 780.5,640 795.5,635 810.5,631.75 825.5,630 838,629 850.5,629 863,627.5 883,625.75 950.5,625.75 975.5,624.25 1000.5,622 1025.5,620.5 1045.5,619.25 1058,616.75 1075.5,614.25 1088,610.75 1100.5,606.25 1113,602 1125.5,597.5 1138,593.75 1150.5,590.5 1173,590 1185.5,593.25 1200.5,598 1213,602.5 1225.5,608.25 1238,612 1253,615.5 1270.5,617.5 1278.5,618.7 1291.5,621.8 1301.5,622.5 1315.1,625.3 1328.3,627.4 1341.5,628.5 1354.5,629 1381,629.5 1394.2,628.5 1407.5,627.7 1425.9,627.9 1431.5,626.5" fill="none" stroke="#f00" stroke-width="1.15" stroke-dasharray="3,3"/>
<text x="1689" y="586" font-size="9.9" fill="#000" textLength="28" lengthAdjust="spacingAndGlyphs">931.89</text>
<text x="1689" y="640.8" font-size="9.9" fill="#000" textLength="19" lengthAdjust="spacingAndGlyphs">0.00</text>
<text x="1689" y="742" font-size="9.9" fill="#000" textLength="35.5" lengthAdjust="spacingAndGlyphs">-1667.31</text>
<text x="-2" y="760" font-size="9.9" fill="#000" textLength="67.5" lengthAdjust="spacingAndGlyphs">RSI(14) 57.6118</text>
<g shape-rendering="crispEdges">
<line x1="1" y1="783.5" x2="1685" y2="783.5" stroke="#c0c0c0" stroke-width="1" stroke-dasharray="3,3"/>
<line x1="1" y1="834.5" x2="1685" y2="834.5" stroke="#c0c0c0" stroke-width="1" stroke-dasharray="3,3"/>
<line x1="1" y1="895.5" x2="1685" y2="895.5" stroke="#c0c0c0" stroke-width="1" stroke-dasharray="3,3"/>
<rect x="1686" y="749" width="1" height="1" fill="#000"/>
</g>
<polyline points="-5.5,822.5 2.5,826.75 10.5,815 18.5,825.5 26.5,827.5 34.5,848 42.5,846.75 50.5,842.5 58.5,830 66.5,848.5 74.5,853 82.5,851 90.5,856.75 98.5,835 106.5,825.5 114.5,828 122.5,826.75 130.5,816.75 138.5,820.5 146.5,819.25 154.5,813 162.5,818 170.5,816 178.5,816.75 186.5,831.75 194.5,831.75 202.5,829.75 210.5,841.75 218.5,856.25 226.5,863.75 234.5,853.75 242.5,854.75 250.5,860 258.5,873 266.5,868 274.5,862.25 282.5,841.25 290.5,826.75 298.5,818 306.5,827.5 314.5,831 322.5,827.5 330.5,823.75 338.5,823.75 346.5,831.75 354.5,838 362.5,838 370.5,841.75 378.5,845 386.5,830 394.5,840 402.5,848.5 410.5,858.5 418.5,868 426.5,868.75 434.5,869.75 442.5,883 450.5,891.75 458.5,881.25 466.5,856.75 474.5,866.75 482.5,854.75 490.5,860.5 498.5,868.5 506.5,872.5 514.5,878 522.5,873 530.5,878.5 538.5,890.5 546.5,869.75 554.5,873 562.5,878.75 570.5,871 578.5,871 586.5,866.75 594.5,868 602.5,872.5 610.5,855.5 618.5,838.75 626.5,838.75 634.5,834.75 642.5,841 650.5,841 658.5,833.75 666.5,841 674.5,848 682.5,848 690.5,850 698.5,848 706.5,831.75 714.5,831.75 722.5,828 730.5,825 738.5,828 746.5,829.75 754.5,831.75 762.5,826 770.5,831 778.5,823.75 786.5,826 794.5,826 802.5,828.75 810.5,836 818.5,833 826.5,831.75 834.5,828.75 842.5,828.75 850.5,821.75 858.5,818.75 866.5,811.75 874.5,821.75 882.5,831.75 890.5,838.75 898.5,834.75 906.5,830.5 914.5,834.25 922.5,823.5 930.5,818.75 938.5,816.75 946.5,814.75 954.5,825 962.5,823.75 970.5,822.75 978.5,826.75 986.5,824.75 994.5,813 1002.5,819.75 1010.5,813.75 1018.5,818.75 1026.5,818.75 1034.5,816 1042.5,810.5 1050.5,805.5 1058.5,797.25 1066.5,796 1074.5,792.5 1082.5,793.75 1090.5,789.75 1098.5,783 1106.5,780.5 1114.5,793.75 1122.5,786.75 1130.5,786.75 1138.5,788.75 1146.5,799.25 1154.5,805.5 1162.5,831 1170.5,826 1178.5,828.75 1186.5,828 1194.5,818.75 1202.5,823 1210.5,819.75 1218.5,826 1226.5,826 1234.5,817.5 1242.5,821.75 1250.5,831 1258.5,826 1266.5,830.5 1274.5,832 1282.5,827.3 1290.5,828.5 1298.5,834.7 1306.5,831.8 1314.5,833.9 1322.5,830.5 1330.5,820.2 1338.5,826.8 1346.5,824.7 1354.5,824.7 1362.5,822 1370.5,820.7 1378.5,822.8 1386.5,815.5 1394.5,811.5 1402.5,817.3 1410.5,823.9 1418.5,821.2 1426.5,819.9 1434.5,822" fill="none" stroke="#1e90ff" stroke-width="1.2"/>
<text x="1689" y="758.1" font-size="9.9" fill="#000" textLength="15.2" lengthAdjust="spacingAndGlyphs">100</text>
<text x="1689" y="787.1" font-size="9.9" fill="#000" textLength="10.1" lengthAdjust="spacingAndGlyphs">80</text>
<text x="1689" y="838.1" font-size="9.9" fill="#000" textLength="10.1" lengthAdjust="spacingAndGlyphs">50</text>
<text x="1689" y="899.1" font-size="9.9" fill="#000" textLength="10.1" lengthAdjust="spacingAndGlyphs">15</text>
<text x="1689" y="918.1" font-size="9.9" fill="#000" textLength="5.1" lengthAdjust="spacingAndGlyphs">0</text>
<g shape-rendering="crispEdges">
<rect x="-6" y="922" width="1" height="3" fill="#000"/>
<rect x="58" y="922" width="1" height="3" fill="#000"/>
<rect x="122" y="922" width="1" height="3" fill="#000"/>
<rect x="186" y="922" width="1" height="3" fill="#000"/>
<rect x="250" y="922" width="1" height="3" fill="#000"/>
<rect x="314" y="922" width="1" height="3" fill="#000"/>
<rect x="378" y="922" width="1" height="3" fill="#000"/>
<rect x="442" y="922" width="1" height="3" fill="#000"/>
<rect x="506" y="922" width="1" height="3" fill="#000"/>
<rect x="570" y="922" width="1" height="3" fill="#000"/>
<rect x="634" y="922" width="1" height="3" fill="#000"/>
<rect x="698" y="922" width="1" height="3" fill="#000"/>
<rect x="762" y="922" width="1" height="3" fill="#000"/>
<rect x="826" y="922" width="1" height="3" fill="#000"/>
<rect x="890" y="922" width="1" height="3" fill="#000"/>
<rect x="954" y="922" width="1" height="3" fill="#000"/>
<rect x="1018" y="922" width="1" height="3" fill="#000"/>
<rect x="1082" y="922" width="1" height="3" fill="#000"/>
<rect x="1146" y="922" width="1" height="3" fill="#000"/>
<rect x="1210" y="922" width="1" height="3" fill="#000"/>
<rect x="1274" y="922" width="1" height="3" fill="#000"/>
<rect x="1338" y="922" width="1" height="3" fill="#000"/>
<rect x="1402" y="922" width="1" height="3" fill="#000"/>
</g>
<text x="-7" y="934" font-size="9.9" fill="#000" textLength="50.9" lengthAdjust="spacingAndGlyphs">24 Dec 2019</text>
<text x="57" y="934" font-size="9.9" fill="#000" textLength="44.4" lengthAdjust="spacingAndGlyphs">2 Jan 2020</text>
<text x="121" y="934" font-size="9.9" fill="#000" textLength="49.4" lengthAdjust="spacingAndGlyphs">12 Jan 2020</text>
<text x="185" y="934" font-size="9.9" fill="#000" textLength="49.4" lengthAdjust="spacingAndGlyphs">21 Jan 2020</text>
<text x="249" y="934" font-size="9.9" fill="#000" textLength="49.4" lengthAdjust="spacingAndGlyphs">30 Jan 2020</text>
<text x="313" y="934" font-size="9.9" fill="#000" textLength="45.4" lengthAdjust="spacingAndGlyphs">9 Feb 2020</text>
<text x="377" y="934" font-size="9.9" fill="#000" textLength="50.4" lengthAdjust="spacingAndGlyphs">18 Feb 2020</text>
<text x="441" y="934" font-size="9.9" fill="#000" textLength="50.4" lengthAdjust="spacingAndGlyphs">27 Feb 2020</text>
<text x="505" y="934" font-size="9.9" fill="#000" textLength="45.4" lengthAdjust="spacingAndGlyphs">8 Mar 2020</text>
<text x="569" y="934" font-size="9.9" fill="#000" textLength="50.4" lengthAdjust="spacingAndGlyphs">17 Mar 2020</text>
<text x="633" y="934" font-size="9.9" fill="#000" textLength="50.4" lengthAdjust="spacingAndGlyphs">26 Mar 2020</text>
<text x="697" y="934" font-size="9.9" fill="#000" textLength="43.4" lengthAdjust="spacingAndGlyphs">5 Apr 2020</text>
<text x="761" y="934" font-size="9.9" fill="#000" textLength="48.4" lengthAdjust="spacingAndGlyphs">14 Apr 2020</text>
<text x="825" y="934" font-size="9.9" fill="#000" textLength="48.4" lengthAdjust="spacingAndGlyphs">23 Apr 2020</text>
<text x="889" y="934" font-size="9.9" fill="#000" textLength="46.9" lengthAdjust="spacingAndGlyphs">3 May 2020</text>
<text x="953" y="934" font-size="9.9" fill="#000" textLength="51.9" lengthAdjust="spacingAndGlyphs">12 May 2020</text>
<text x="1017" y="934" font-size="9.9" fill="#000" textLength="51.9" lengthAdjust="spacingAndGlyphs">21 May 2020</text>
<text x="1081" y="934" font-size="9.9" fill="#000" textLength="51.9" lengthAdjust="spacingAndGlyphs">31 May 2020</text>
<text x="1145" y="934" font-size="9.9" fill="#000" textLength="44.4" lengthAdjust="spacingAndGlyphs">9 Jun 2020</text>
<text x="1209" y="934" font-size="9.9" fill="#000" textLength="49.4" lengthAdjust="spacingAndGlyphs">18 Jun 2020</text>
<text x="1273" y="934" font-size="9.9" fill="#000" textLength="49.4" lengthAdjust="spacingAndGlyphs">28 Jun 2020</text>
<text x="1337" y="934" font-size="9.9" fill="#000" textLength="41.4" lengthAdjust="spacingAndGlyphs">7 Jul 2020</text>
<text x="1401" y="934" font-size="9.9" fill="#000" textLength="46.4" lengthAdjust="spacingAndGlyphs">16 Jul 2020</text>
<rect x="0" y="0" width="1732" height="15" fill="#f0f0f0"/>
<g shape-rendering="crispEdges">
<rect x="0" y="15" width="1732" height="1" fill="#f4f4f4"/>
<rect x="0" y="16" width="1732" height="1" fill="#a6a6a6"/>
<rect x="0" y="17" width="1732" height="1" fill="#686868"/>
</g>
<clipPath id="ct"><rect x="0" y="0" width="1732" height="15"/></clipPath>
<g clip-path="url(#ct)">
<rect x="-1" y="-1" width="9.2" height="11.5" fill="#fff" stroke="#3c80d0" stroke-width="1"/>
<path d="M0,2.5H7M0,4.5H7M0,6.5H7" stroke="#b4cdf2" stroke-width="1"/>
<rect x="21.5" y="-1" width="8" height="9.5" fill="#fff" stroke="#b0b0b0" stroke-width="0.8"/>
<line x1="33.5" y1="8" x2="38" y2="12.8" stroke="#d2a020" stroke-width="2.2"/>
<circle cx="29.9" cy="3.7" r="4.6" fill="#c9dcf3" stroke="#8fb4e6" stroke-width="1.2"/>
<rect x="28" y="1" width="3" height="5" fill="#a9b4c4"/>
<rect x="46" y="0" width="1" height="14" fill="#a5a5a5" shape-rendering="crispEdges"/>
<rect x="56.5" y="-1" width="10.5" height="9.8" fill="#fff" stroke="#8a8a8a" stroke-width="1"/>
<path d="M58.5,3.5H65M58.5,5.5H63" stroke="#9a9a9a" stroke-width="1"/>
<path d="M64.6,2.6h3.4v3.6h3.6v3.4h-3.6v3.6h-3.4v-3.6h-3.6v-3.4h3.6z" fill="#2ad22a" stroke="#0c9a0c" stroke-width="0.9"/>
<text x="75.2" y="7" font-size="11.8" fill="#111" textLength="35.4" lengthAdjust="spacingAndGlyphs" style="font-family:'Liberation Sans','Noto Sans CJK SC',sans-serif">新订单</text>
<polygon points="130,0 138.5,5.2 131,11.8 123,6" fill="#e9b93a"/>
<polygon points="123,6 131,11.8 138.5,5.2 138.5,7 131,13 123,7.6" fill="#a8780c"/>
<polygon points="128,0 134,0 137,3 131,8 125.5,4" fill="#f5d66a" opacity="0.7"/>
<rect x="155.6" y="-1" width="8.2" height="6" fill="#2f8fe6"/>
<rect x="158.6" y="0" width="2" height="5" fill="#cfe6fb"/>
<path d="M154,11.5a3,3 0 0 1 0.6,-5.8a4,3.4 0 0 1 7,-0.8a3.4,3.4 0 0 1 4.4,3.2a2.4,2.4 0 0 1 -1,3.4z" fill="#dfe7f3" stroke="#6d8cbc" stroke-width="0.9"/>
<path d="M186.8,3.5L186.8,-2A8.3,8.3 0 0 1 195,3.5A8.3,8.3 0 0 1 186.8,11.8z" fill="#8cc08c"/>
<path d="M186.8,3.5V11.8" stroke="#1c9a1c" stroke-width="1.4"/>
<path d="M184,0A4.5,4.5 0 0 0 184,7M181.6,-1.5A7.6,7.6 0 0 0 182,9.5M189.5,0.5A4,4 0 0 1 189.5,6.5" stroke="#5d86d6" stroke-width="1" fill="none"/>
<circle cx="186.8" cy="3.5" r="1.6" fill="#2f5fd0"/>
<polygon points="206.5,2 221.5,2 221.5,6 215,11.6 212,11.6 206.5,5" fill="#f2d23c" stroke="#c8a818" stroke-width="0.6"/>
<ellipse cx="214" cy="0.8" rx="7.8" ry="2.6" fill="#58b4e6" stroke="#2a84c4" stroke-width="0.8"/>
<circle cx="218.4" cy="7.8" r="4.2" fill="#dc2410"/>
<rect x="217" y="6.4" width="2.8" height="2.8" fill="#fff"/>
<text x="228.8" y="7.2" font-size="11.4" fill="#111" textLength="45.2" lengthAdjust="spacingAndGlyphs" style="font-family:'Liberation Sans','Noto Sans CJK SC',sans-serif">自动交易</text>
<rect x="282" y="0" width="1" height="14" fill="#a5a5a5" shape-rendering="crispEdges"/>
<rect x="286" y="0" width="3" height="1" fill="#b0b0b0" shape-rendering="crispEdges"/>
<rect x="286" y="2" width="3" height="1" fill="#b0b0b0" shape-rendering="crispEdges"/>
<rect x="286" y="4" width="3" height="1" fill="#b0b0b0" shape-rendering="crispEdges"/>
<rect x="286" y="6" width="3" height="1" fill="#b0b0b0" shape-rendering="crispEdges"/>
<rect x="286" y="8" width="3" height="1" fill="#b0b0b0" shape-rendering="crispEdges"/>
<rect x="286" y="10" width="3" height="1" fill="#b0b0b0" shape-rendering="crispEdges"/>
<rect x="286" y="12" width="3" height="1" fill="#b0b0b0" shape-rendering="crispEdges"/>
<path d="M300.3,0V11.5M297.8,9.5H310.8M308.8,8l2.2,1.5l-2.2,1.5" stroke="#505050" stroke-width="1" fill="none"/>
<path d="M304.5,7H307V0.8H309" stroke="#1c8c1c" stroke-width="1.3" fill="none"/>
<rect x="320" y="0" width="1" height="14" fill="#a5a5a5" shape-rendering="crispEdges"/>
<rect x="322" y="0" width="24" height="14" fill="#f9f9f9"/>
<path d="M328.5,0V11.5M326,9.5H339M337,8l2.2,1.5l-2.2,1.5" stroke="#505050" stroke-width="1" fill="none"/>
<rect x="332" y="-1" width="5" height="6.6" fill="#27a827"/><rect x="334" y="5" width="1" height="3" fill="#1c8c1c"/>
<path d="M356.8,0V11.5M354.3,9.5H367.3M365.3,8l2.2,1.5l-2.2,1.5" stroke="#505050" stroke-width="1" fill="none"/>
<path d="M355,6.5Q360,-1.5 362,1.2T366.8,5.2" stroke="#1c8c1c" stroke-width="1.2" fill="none"/>
<rect x="377" y="0" width="1" height="14" fill="#a5a5a5" shape-rendering="crispEdges"/>
<line x1="395.4" y1="6" x2="401.0" y2="10.8" stroke="#d8ac28" stroke-width="2.4"/>
<circle cx="391.4" cy="2" r="5" fill="#cfe6f8" stroke="#4c94d6" stroke-width="1.2"/>
<rect x="388.59999999999997" y="1.3" width="5.6" height="1.5" fill="#2f6fd0"/>
<rect x="390.65" y="-1" width="1.5" height="6" fill="#2f6fd0"/>
<line x1="424.3" y1="6" x2="429.90000000000003" y2="10.8" stroke="#d8ac28" stroke-width="2.4"/>
<circle cx="420.3" cy="2" r="5" fill="#cfe6f8" stroke="#4c94d6" stroke-width="1.2"/>
<rect x="417.5" y="1.3" width="5.6" height="1.5" fill="#2f6fd0"/>
<rect x="442.3" y="-1" width="7.2" height="4" fill="#4ea42c"/><rect x="450.5" y="-1" width="7.2" height="4" fill="#2c5cd4"/>
<rect x="442.3" y="4.6" width="7.2" height="7" fill="#2c5cd4"/><rect x="450.5" y="4.6" width="7.2" height="7" fill="#4ea42c"/>
<rect x="443.8" y="7.4" width="4.2" height="2.6" fill="#fff"/><rect x="452" y="7.4" width="4.2" height="2.6" fill="#fff"/>
<rect x="443.8" y="0" width="4.2" height="1.6" fill="#fff"/><rect x="452" y="0" width="4.2" height="1.6" fill="#fff"/>
<rect x="467" y="0" width="1" height="14" fill="#a5a5a5" shape-rendering="crispEdges"/>
<rect x="472" y="0" width="1" height="14" fill="#a5a5a5" shape-rendering="crispEdges"/>
<rect x="473" y="0" width="24" height="14" fill="#f9f9f9"/>
<path d="M480.3,0V11.5M477.8,9.5H490.8M488.8,8l2.2,1.5l-2.2,1.5" stroke="#505050" stroke-width="1" fill="none"/>
<polygon points="485.4,0.8 489.2,3.6 485.4,6.4" fill="#7ad07a" stroke="#1c9a1c" stroke-width="0.9"/>
<rect x="500" y="0" width="1" height="14" fill="#a5a5a5" shape-rendering="crispEdges"/>
<rect x="502" y="0" width="24" height="14" fill="#f9f9f9"/>
<path d="M508.5,0V11.5M506,9.5H519M517,8l2.2,1.5l-2.2,1.5" stroke="#505050" stroke-width="1" fill="none"/>
<rect x="514" y="0" width="1.2" height="7.8" fill="#2a6ac0"/>
<path d="M520.4,3.5H516M517.8,1.6L515.6,3.5L517.8,5.4" stroke="#d8501c" stroke-width="1.1" fill="none"/>
<rect x="529" y="0" width="1" height="14" fill="#a5a5a5" shape-rendering="crispEdges"/>
<rect x="539.5" y="-1" width="11" height="9.6" fill="#fff" stroke="#8a8a8a" stroke-width="1"/>
<path d="M547.2,2.2h3.4v4h4v3.4h-4v4h-3.4v-4h-4v-3.4h4z" fill="#2ad22a" stroke="#0c9a0c" stroke-width="0.9"/>
<polygon points="561,3.2 566,3.2 563.5,5.9" fill="#000"/>
<circle cx="584.7" cy="3.6" r="6.9" fill="#f4f8ff" stroke="#1f5fd0" stroke-width="2.2"/>
<path d="M584.7,0V4H588" stroke="#707070" stroke-width="1" fill="none"/>
<polygon points="600.3,3.2 605.3,3.2 602.8,5.9" fill="#000"/>
<rect x="617" y="-1" width="14.2" height="11.6" fill="#fff" stroke="#3c6cd0" stroke-width="1.2"/>
<path d="M618.5,3L622,2L625,2.6L629.5,1" stroke="#b03020" stroke-width="1" fill="none"/>
<path d="M617,5H631" stroke="#3c6cd0" stroke-width="0.8"/>
<path d="M618.5,8.2L622,7.2L624,8.4L626.5,6.6L629.5,8" stroke="#1c9a1c" stroke-width="1" fill="none"/>
<polygon points="639.2,3.2 644.2,3.2 641.7,5.9" fill="#000"/>
<rect x="650" y="0" width="1" height="14" fill="#a5a5a5" shape-rendering="crispEdges"/>
<rect x="654" y="0" width="3" height="1" fill="#b0b0b0" shape-rendering="crispEdges"/>
<rect x="654" y="2" width="3" height="1" fill="#b0b0b0" shape-rendering="crispEdges"/>
<rect x="654" y="4" width="3" height="1" fill="#b0b0b0" shape-rendering="crispEdges"/>
<rect x="654" y="6" width="3" height="1" fill="#b0b0b0" shape-rendering="crispEdges"/>
<rect x="654" y="8" width="3" height="1" fill="#b0b0b0" shape-rendering="crispEdges"/>
<rect x="654" y="10" width="3" height="1" fill="#b0b0b0" shape-rendering="crispEdges"/>
<rect x="654" y="12" width="3" height="1" fill="#b0b0b0" shape-rendering="crispEdges"/>
<rect x="660" y="0" width="1" height="14" fill="#a5a5a5" shape-rendering="crispEdges"/>
<rect x="662" y="0" width="23" height="14" fill="#f9f9f9"/>
<polygon points="668.6,-1 668.6,8 671,6.2 673.4,11 675.6,10 673.4,5.4 676.8,4.8" fill="#3c3c3c"/>
<path d="M693,4.4H708M700.5,0V11.6" stroke="#505050" stroke-width="1" fill="none"/>
<rect x="717" y="0" width="1" height="14" fill="#a5a5a5" shape-rendering="crispEdges"/>
<path d="M734.5,0V11M757,4.5H769" stroke="#505050" stroke-width="1" fill="none"/>
<path d="M785,11.2L796,0" stroke="#505050" stroke-width="1.1" fill="none"/>
<path d="M812,8.5L822,0M814.5,10.5L824.5,2M815,0L813.5,9M819,0L817,8M823,0L821,6" stroke="#505050" stroke-width="1" fill="none"/>
<text x="821.8" y="12.6" font-size="6.5" font-weight="bold" fill="#404040">E</text>
<path d="M840.5,0.5H853M840.5,4.5H853M840.5,8.6H850" stroke="#505050" stroke-width="1" stroke-dasharray="1.2,1.2" fill="none"/>
<text x="850" y="13" font-size="6.5" font-weight="bold" fill="#404040">F</text>
<text x="870.3" y="8.6" font-size="13" font-weight="bold" fill="#6a6a6a" textLength="9" lengthAdjust="spacingAndGlyphs">A</text>
<rect x="897.5" y="-1" width="11.2" height="12" fill="none" stroke="#606060" stroke-width="1" stroke-dasharray="1,1"/>
<text x="899.6" y="8.7" font-size="10.5" font-weight="bold" fill="#6a6a6a" textLength="6.8" lengthAdjust="spacingAndGlyphs">T</text>
<polygon points="925,0 930,0 931.5,2 928,3.6" fill="#505050"/><polygon points="932,8 935,5.6 938,8 935,10.6" fill="#505050"/>
<path d="M926.5,4.5L929.5,7.5L934,3" stroke="#505050" stroke-width="1.2" fill="none"/>
<polygon points="944.8,3.2 949.8,3.2 947.3,5.9" fill="#000"/>
<rect x="956" y="0" width="1" height="14" fill="#a5a5a5" shape-rendering="crispEdges"/>
<rect x="960" y="0" width="3" height="1" fill="#b0b0b0" shape-rendering="crispEdges"/>
<rect x="960" y="2" width="3" height="1" fill="#b0b0b0" shape-rendering="crispEdges"/>
<rect x="960" y="4" width="3" height="1" fill="#b0b0b0" shape-rendering="crispEdges"/>
<rect x="960" y="6" width="3" height="1" fill="#b0b0b0" shape-rendering="crispEdges"/>
<rect x="960" y="8" width="3" height="1" fill="#b0b0b0" shape-rendering="crispEdges"/>
<rect x="960" y="10" width="3" height="1" fill="#b0b0b0" shape-rendering="crispEdges"/>
<rect x="960" y="12" width="3" height="1" fill="#b0b0b0" shape-rendering="crispEdges"/>
<rect x="1135" y="0" width="26" height="14" fill="#f9f9f9"/>
<text x="971.8" y="7.9" font-size="9.6" fill="#4a4a4a" textLength="12.6" lengthAdjust="spacingAndGlyphs">M1</text>
<text x="999.8" y="7.9" font-size="9.6" fill="#4a4a4a" textLength="12.6" lengthAdjust="spacingAndGlyphs">M5</text>
<text x="1025.6" y="7.9" font-size="9.6" fill="#4a4a4a" textLength="17.4" lengthAdjust="spacingAndGlyphs">M15</text>
<text x="1053.2" y="7.9" font-size="9.6" fill="#4a4a4a" textLength="18.2" lengthAdjust="spacingAndGlyphs">M30</text>
<text x="1084.5" y="7.9" font-size="9.6" fill="#4a4a4a" textLength="11.8" lengthAdjust="spacingAndGlyphs">H1</text>
<text x="1111.5" y="7.9" font-size="9.6" fill="#4a4a4a" textLength="12.4" lengthAdjust="spacingAndGlyphs">H4</text>
<text x="1141" y="7.9" font-size="9.6" fill="#4a4a4a" textLength="12.4" lengthAdjust="spacingAndGlyphs">D1</text>
<text x="1167.4" y="7.9" font-size="9.6" fill="#4a4a4a" textLength="14.8" lengthAdjust="spacingAndGlyphs">W1</text>
<text x="1195" y="7.9" font-size="9.6" fill="#4a4a4a" textLength="15.6" lengthAdjust="spacingAndGlyphs">MN</text>
<rect x="1134" y="0" width="1" height="14" fill="#a5a5a5" shape-rendering="crispEdges"/>
<rect x="1217" y="0" width="1" height="14" fill="#a5a5a5" shape-rendering="crispEdges"/>
<line x1="1684.6" y1="5" x2="1680.2" y2="8.8" stroke="#2a5ac8" stroke-width="2.4"/>
<circle cx="1687.6" cy="1.8" r="4" fill="#f3f3f3" stroke="#2a5ad8" stroke-width="1.1"/>
<ellipse cx="1721.8" cy="2.4" rx="5.2" ry="4.6" fill="#eeeef4" stroke="#b4b4b4" stroke-width="0.9"/>
<polygon points="1721,6.6 1724,6.6 1723,8.2" fill="#9a9a9a"/>
<ellipse cx="1711.4" cy="5" rx="5.3" ry="3.8" fill="#fafafa" stroke="#a6a6a6" stroke-width="0.9"/>
<polygon points="1707.6,8 1710,8.8 1708.2,10.6" fill="#8a8a8a"/>
</g>
<defs><linearGradient id="gs" x1="0" y1="0" x2="0" y2="1"><stop offset="0" stop-color="#fa5050"/><stop offset="1" stop-color="#e03232"/></linearGradient><linearGradient id="gl" x1="0" y1="0" x2="0" y2="1"><stop offset="0" stop-color="#dc3030"/><stop offset="0.55" stop-color="#c41818"/><stop offset="1" stop-color="#ae0404"/></linearGradient><linearGradient id="gb" x1="0" y1="0" x2="0" y2="1"><stop offset="0" stop-color="#f2f2f2"/><stop offset="0.45" stop-color="#e6e6e6"/><stop offset="0.5" stop-color="#d8d8d8"/><stop offset="1" stop-color="#cfcfcf"/></linearGradient></defs>
<g shape-rendering="crispEdges">
<rect x="0" y="38" width="218" height="68" fill="#fff"/>
<rect x="0" y="40" width="49" height="24" fill="url(#gs)"/>
<rect x="0" y="40" width="49" height="1" fill="#d82424"/><rect x="48" y="40" width="1" height="24" fill="#c81818"/>
<rect x="1" y="63" width="45" height="1" fill="#7e0c0c"/>
<rect x="164" y="40" width="52" height="24" fill="url(#gs)"/>
<rect x="164" y="40" width="52" height="1" fill="#d82424"/><rect x="164" y="40" width="1" height="24" fill="#c81818"/><rect x="215" y="40" width="1" height="24" fill="#c81818"/>
<rect x="168" y="63" width="44" height="1" fill="#7e0c0c"/>
<rect x="0" y="64" width="106" height="40" fill="url(#gl)"/>
<rect x="1" y="64" width="45" height="1" fill="#ec6a6a"/>
<rect x="105" y="64" width="1" height="40" fill="#a80808"/><rect x="0" y="103" width="106" height="1" fill="#a00404"/>
<rect x="108" y="64" width="108" height="40" fill="url(#gl)"/>
<rect x="168" y="64" width="44" height="1" fill="#ec6a6a"/>
<rect x="108" y="64" width="1" height="40" fill="#a80808"/><rect x="215" y="64" width="1" height="40" fill="#a80808"/><rect x="108" y="103" width="108" height="1" fill="#a00404"/>
<rect x="51" y="40" width="112" height="22" fill="#a9abb5"/>
<rect x="52" y="41" width="110" height="20" fill="#fff"/>
<rect x="53" y="42" width="18" height="18" fill="url(#gb)"/>
<rect x="72" y="41" width="1" height="20" fill="#b4b6be"/>
<rect x="140" y="41" width="1" height="20" fill="#b4b6be"/>
<rect x="142" y="42" width="19" height="18" fill="url(#gb)"/>
</g>
<polygon points="58.5,48.8 64.5,48.8 61.5,52.2" fill="#4a5cc0"/>
<polygon points="148,52 154,52 151,48.6" fill="#6a78cc"/>
<text x="136.8" y="55" font-size="12.2" text-anchor="end" textLength="23.5" lengthAdjust="spacingAndGlyphs" fill="#000">1.00</text>
<text x="9.3" y="55.8" font-size="12.8" textLength="25.6" lengthAdjust="spacingAndGlyphs" fill="#fff">SELL</text>
<text x="177.6" y="55.8" font-size="12.8" textLength="23.4" lengthAdjust="spacingAndGlyphs" fill="#fff">BUY</text>
<text x="13.3" y="95" font-size="12.2" font-weight="bold" textLength="34.3" lengthAdjust="spacingAndGlyphs" fill="#fff">22731</text>
<text x="123.2" y="95" font-size="12.2" font-weight="bold" textLength="34.3" lengthAdjust="spacingAndGlyphs" fill="#fff">22754</text>
<rect x="52.6" y="91.3" width="3.7" height="3.7" rx="1.1" fill="#fff"/><rect x="163.3" y="91.3" width="3.7" height="3.7" rx="1.1" fill="#fff"/>
<ellipse cx="67.2" cy="83.2" rx="7.3" ry="11.4" fill="none" stroke="#fff" stroke-width="1.9"/>
<ellipse cx="177.8" cy="83.2" rx="7.3" ry="11.4" fill="none" stroke="#fff" stroke-width="1.9"/>
</svg></body></html>
